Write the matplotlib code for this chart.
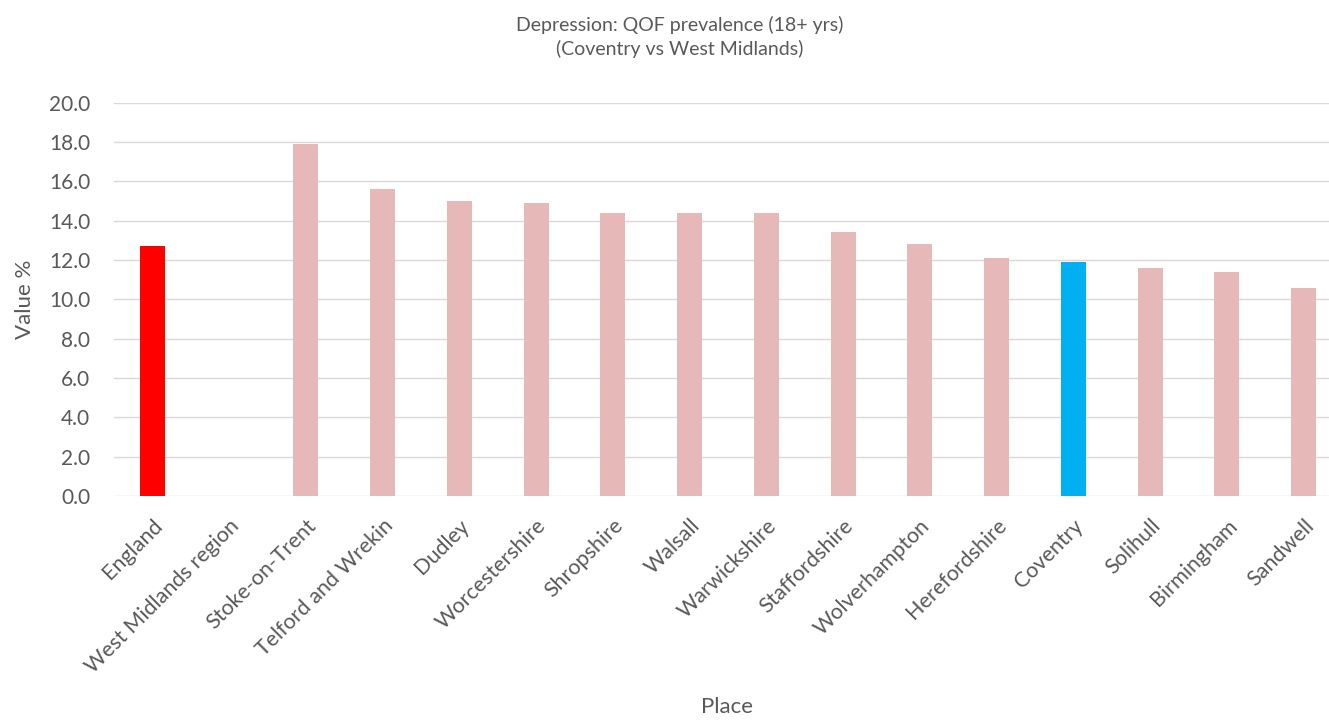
import numpy as np
import matplotlib
matplotlib.use("Agg")
import matplotlib.pyplot as plt

places = ["England", "West Midlands region", "Stoke-on-Trent", "Telford and Wrekin",
          "Dudley", "Worcestershire", "Shropshire", "Walsall", "Warwickshire",
          "Staffordshire", "Wolverhampton", "Herefordshire", "Coventry", "Solihull",
          "Birmingham", "Sandwell"]
# West Midlands region has no value
values = [12.7, np.nan, 17.9, 15.6, 15.0, 14.9, 14.4, 14.4, 14.4,
          13.4, 12.8, 12.1, 11.9, 11.6, 11.4, 10.6]

colors = []
for p in places:
    if p == "England":
        colors.append("#FF0000")
    elif p == "Coventry":
        colors.append("#00B0F0")
    else:
        colors.append("#E6B8B7")

plt.rcParams['font.family'] = ['Lato', 'DejaVu Sans']
text_col = "#595959"

fig = plt.figure(figsize=(13.29, 7.21), dpi=100)
ax = fig.add_axes([114 / 1329, 1 - 496 / 721, 1228 / 1329, (496 - 102.7) / 721])

x = np.arange(len(places))
ax.bar(x, values, width=0.325, color=colors, zorder=3)

ax.set_xlim(-0.5, len(places) - 0.5)
ax.set_ylim(0, 20)
ax.set_yticks(np.arange(0, 21, 2))
ax.set_yticklabels([f"{v:.1f}" for v in np.arange(0, 21, 2)], fontsize=15, color=text_col)
ax.set_xticks(x)
ax.set_xticklabels(places, rotation=45, ha="right", rotation_mode="anchor",
                   fontsize=15.5, color=text_col)
ax.tick_params(axis="y", length=0, pad=17)
ax.tick_params(axis="x", length=0, pad=14)

ax.grid(axis="y", color="#D9D9D9", linewidth=1.0, zorder=0)
for s in ax.spines.values():
    s.set_visible(False)

ax.set_ylabel("Value %", fontsize=16, color=text_col, labelpad=10)
fig.text(727 / 1329, 1 - 707 / 721, "Place", fontsize=16, color=text_col,
         ha="center", va="center")
fig.text(680 / 1329, 1 - 37 / 721,
         "Depression: QOF prevalence (18+ yrs)\n(Coventry vs West Midlands)",
         fontsize=14, color=text_col, ha="center", va="center", linespacing=1.45)

fig.savefig("out.png", dpi=100)
